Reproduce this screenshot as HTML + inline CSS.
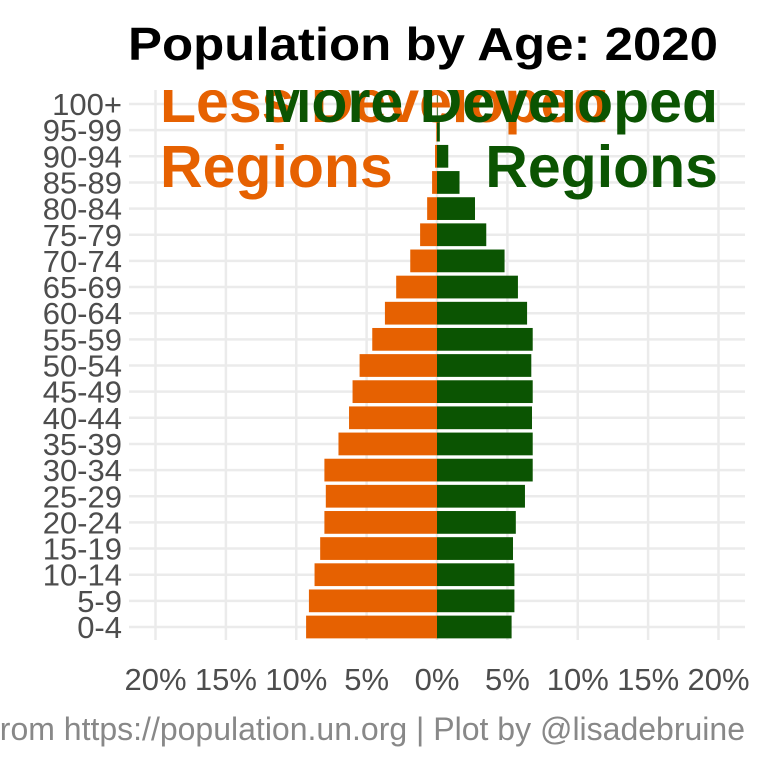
<!DOCTYPE html>
<html><head><meta charset="utf-8"><style>
html,body{margin:0;padding:0;background:#fff;}
svg{display:block;font-family:"Liberation Sans",sans-serif;}
</style></head><body>
<svg id="chart" width="768" height="768" viewBox="0 0 768 768">
<text x="423" y="60" text-anchor="middle" font-size="46" font-weight="bold" fill="#000" textLength="590" lengthAdjust="spacingAndGlyphs">Population by Age: 2020</text>
<defs><clipPath id="panel"><rect x="125" y="90" width="630" height="560"/></clipPath></defs>
<g id="grid"></g>
<g id="bars"></g>
<g clip-path="url(#panel)">
<text x="160" y="122" font-size="59" font-weight="bold" fill="#E66101">Less Developed</text>
<text x="160" y="187" font-size="59" font-weight="bold" fill="#E66101">Regions</text>
<text x="718" y="122" text-anchor="end" font-size="59" font-weight="bold" fill="#0B5402">More Developed</text>
<text x="718" y="187" text-anchor="end" font-size="59" font-weight="bold" fill="#0B5402">Regions</text>
</g>
<g id="yaxis"></g>
<g id="xaxis"></g>
<text x="745" y="740" text-anchor="end" font-size="32" fill="#888">Data from https://population.un.org | Plot by @lisadebruine</text>
</svg>
<script>
const ages = ["0-4","5-9","10-14","15-19","20-24","25-29","30-34","35-39","40-44","45-49","50-54","55-59","60-64","65-69","70-74","75-79","80-84","85-89","90-94","95-99","100+"];
const lessDeveloped = [9.3,9.1,8.7,8.3,8.0,7.9,8.0,7.0,6.25,6.0,5.5,4.6,3.7,2.9,1.9,1.2,0.7,0.35,0.14,0.05,0.01];
const moreDeveloped = [5.3,5.5,5.5,5.4,5.6,6.25,6.8,6.8,6.75,6.8,6.7,6.8,6.4,5.75,4.8,3.5,2.7,1.6,0.8,0.2,0.05];
const xTicks = [-20,-15,-10,-5,0,5,10,15,20];
const xTickLabels = ["20%","15%","10%","5%","0%","5%","10%","15%","20%"];

const NS="http://www.w3.org/2000/svg";
const x0=437, pxPer=(718-155)/40;
function xs(v){return x0+v*pxPer;}
const yBottom=627, yTop=104, step=(yBottom-yTop)/(ages.length-1);
function ys(i){return yBottom-i*step;}
function mk(tag,attrs,parent){const e=document.createElementNS(NS,tag);for(const k in attrs)e.setAttribute(k,attrs[k]);parent.appendChild(e);return e;}
const grid=document.getElementById('grid'),bars=document.getElementById('bars'),ya=document.getElementById('yaxis'),xa=document.getElementById('xaxis');
xTicks.forEach((t,i)=>{
  const l=mk('line',{x1:xs(t),x2:xs(t),y1:90,y2:640,stroke:'#ebebeb','stroke-width':2.5},grid);
  
  
  const tx=mk('text',{x:xs(t),y:690,'text-anchor':'middle','font-size':31,fill:'#4d4d4d'},xa);
  tx.textContent=xTickLabels[i];
  
  
});
ages.forEach((a,i)=>{
  const l=mk('line',{x1:129,x2:745,y1:ys(i),y2:ys(i),stroke:'#ebebeb','stroke-width':2.5},grid);
  
  
  const t=mk('text',{x:122,y:ys(i)+11,'text-anchor':'end','font-size':31,fill:'#4d4d4d'},ya);
  t.textContent=a;
  
  
  const h=step*0.87;
  const lv=lessDeveloped[i];
  const r1=mk('rect',{x:xs(-lv),y:ys(i)-h/2,width:xs(0)-xs(-lv),height:h,fill:'#E66101'},bars);
  
  
  const mv=moreDeveloped[i];
  const r2=mk('rect',{x:xs(0),y:ys(i)-h/2,width:xs(mv)-xs(0),height:h,fill:'#0B5402'},bars);
  
  
});
</script>
</body></html>
